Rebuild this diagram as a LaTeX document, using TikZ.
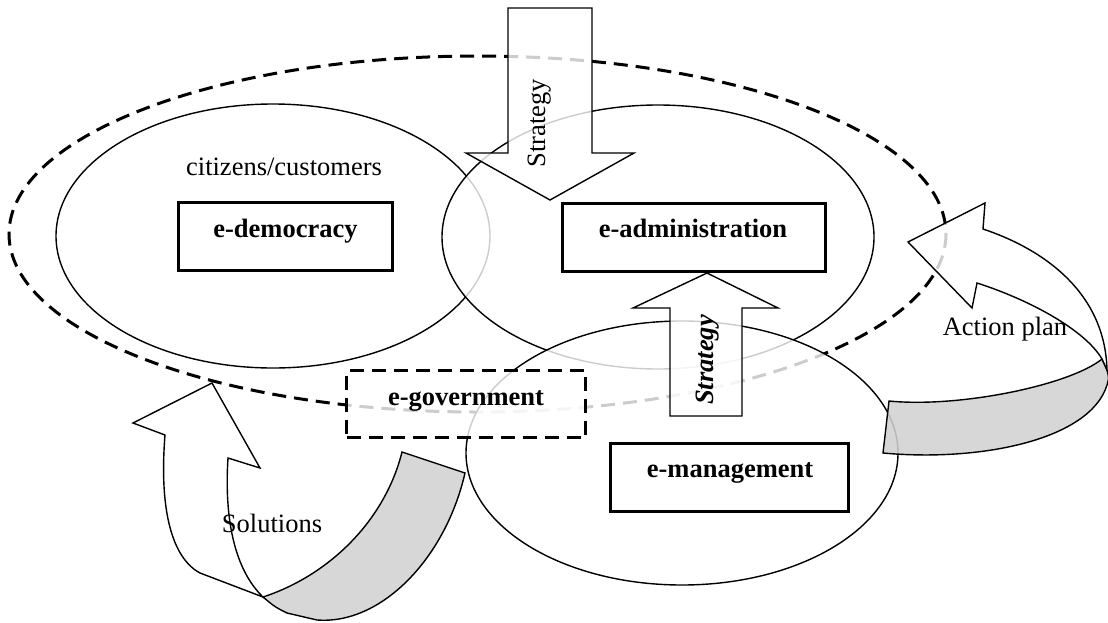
\documentclass[tikz,border=0pt]{standalone}
\usepackage{fontspec}
\setmainfont{Liberation Serif}
\begin{document}
\begin{tikzpicture}[x=1pt,y=-1pt,
  every node/.style={font=\fontsize{26.5}{30}\selectfont, inner sep=0pt},
  bold/.style={font=\fontsize{26.5}{30}\selectfont\bfseries},
  thinline/.style={line width=1.4pt},
  veil/.style={fill=white, fill opacity=0.8},
  boxst/.style={draw, line width=3pt, fill=white, minimum height=68},
  dashline/.style={line width=3pt, dash pattern=on 14pt off 8pt},
  band/.style={fill=black!18, fill opacity=0.88, draw, line width=1.4pt},
]
\useasboundingbox (0,0) rectangle (1108,622);
% outer dashed ellipse
\draw[dashline] (477.5,234) ellipse [x radius=468.5, y radius=178];
% three ellipses
\draw[thinline, veil] (273,236) ellipse [x radius=217, y radius=132];
\draw[thinline, veil] (658,237) ellipse [x radius=216, y radius=132];
\draw[thinline, veil] (682,453) ellipse [x radius=216, y radius=132];
% top strategy arrow (down)
\draw[thinline, veil] (508,8) -- (592,8) -- (592,153) -- (634,153) -- (550,200) -- (466,153) -- (508,153) -- cycle;
% up strategy arrow
\draw[thinline, veil] (670,416) -- (742,416) -- (742,308) -- (778,308) -- (707,273) -- (633,308) -- (670,308) -- cycle;
% e-government dashed box
\node[draw, dashline, veil, minimum width=239, minimum height=67] (egovbox) at (466,404) {};
% action plan arrow: back band then front face
\draw[band] (1102,359) .. controls (1070,385) and (960,408) .. (889,401) -- (883,453)
  .. controls (980,462) and (1090,440) .. (1107,385) .. controls (1109,378) .. (1107,370) -- cycle;
\draw[thinline, veil] (908,242) -- (985,203) -- (983,229) .. controls (1040,248) and (1105,290) .. (1107,370)
  -- (1102,359) .. controls (1085,330) and (1030,300) .. (977,283) -- (972,308) -- cycle;
% solutions arrow: back band then front face
\draw[band] (263,597) .. controls (330,575) and (385,520) .. (402,452) -- (465,473)
  .. controls (445,560) and (380,625) .. (317,620) -- (287,613) .. controls (275,607) .. (263,597) -- cycle;
\draw[thinline, veil] (212,383) -- (260,468) -- (228,458) .. controls (224,520) and (235,570) .. (263,597)
  -- (200,573) .. controls (172,558) and (159,510) .. (165,435) -- (133,423) -- cycle;
% solid boxes
\node[boxst, minimum width=214] (edembox) at (285.5,236.5) {};
\node[boxst, minimum width=263] (eadmbox) at (694,237) {};
\node[boxst, minimum width=238] (emanbox) at (729.5,477) {};
% texts
\node[anchor=base] (cit) at (284,175) {citizens/customers};
\node[bold, anchor=base] (edem) at (285.5,237) {e-democracy};
\node[bold, anchor=base] (eadm) at (693,237) {e-administration};
\node[bold, anchor=base] (eman) at (730,477) {e-management};
\node[bold, anchor=base] (egov) at (466,405) {e-government};
\node[rotate=90, anchor=base] (strat1) at (545,123) {Strategy};
\node[rotate=90, anchor=base, font=\fontsize{26.5}{30}\selectfont\bfseries\itshape] (strat2) at (713,360) {Strategy};
\node[anchor=base] (sol) at (272,532) {Solutions};
\node[anchor=base] (act) at (1005,335) {Action plan};
\end{tikzpicture}
\end{document}
